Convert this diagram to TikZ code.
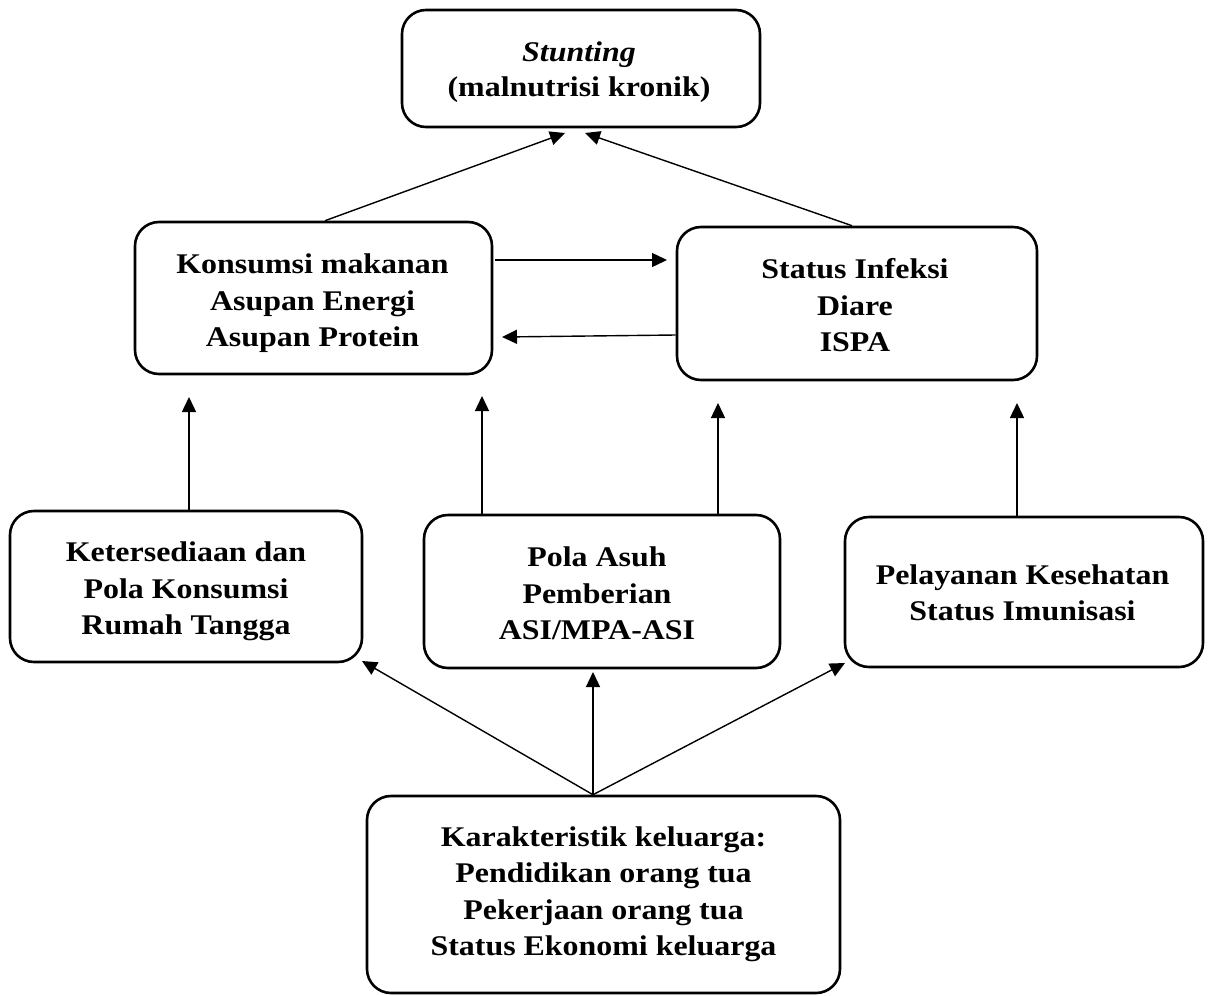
\documentclass[tikz,border=0pt]{standalone}
\usepackage{fontspec}
\setmainfont[FakeStretch=1.12]{Liberation Serif}
\usetikzlibrary{arrows.meta}
\begin{document}
\begin{tikzpicture}[x=1pt,y=-1pt,
 box/.style={draw, line width=2.6pt, rounded corners=24pt, inner sep=0pt},
 txt/.style={align=center, font=\fontsize{28.5}{36.5}\selectfont\bfseries, inner sep=0pt},
 arr/.style={line width=1.4pt, -{Triangle[length=15pt,width=14pt]}}]
\useasboundingbox (0,0) rectangle (1208,996);
% boxes
\node[box, minimum width=358pt, minimum height=117pt] (b1) at (581,68.5) {};
\node[box, minimum width=357pt, minimum height=152pt] (b2) at (313.5,298) {};
\node[box, minimum width=360pt, minimum height=153pt] (b3) at (857,303.5) {};
\node[box, minimum width=352pt, minimum height=151pt] (b4) at (186,586.5) {};
\node[box, minimum width=356pt, minimum height=153pt] (b5) at (602,591.5) {};
\node[box, minimum width=358pt, minimum height=150pt] (b6) at (1024,592) {};
\node[box, minimum width=473pt, minimum height=197pt] (b7) at (603.5,894.5) {};
% texts
\node[txt, font=\fontsize{28.5}{35}\selectfont\bfseries] (t1) at (579,72) {\strut\textit{Stunting}\\\strut(malnutrisi kronik)};
\node[txt] (t2) at (312.5,302.7) {\strut Konsumsi makanan\\\strut Asupan Energi\\\strut Asupan Protein};
\node[txt] (t3) at (855,307.7) {\strut Status Infeksi\\\strut Diare\\\strut ISPA};
\node[txt] (t4) at (186,590.7) {\strut Ketersediaan dan\\\strut Pola Konsumsi\\\strut Rumah Tangga};
\node[txt] (t5) at (597,596) {\strut Pola Asuh\\\strut Pemberian\\\strut ASI/MPA-ASI};
\node[txt] (t6) at (1022.5,595.2) {\strut Pelayanan Kesehatan\\\strut Status Imunisasi};
\node[txt] (t7) at (603.5,893.7) {\strut Karakteristik keluarga:\\\strut Pendidikan orang tua\\\strut Pekerjaan orang tua\\\strut Status Ekonomi keluarga};
% arrow tips / anchors
\coordinate (p1) at (565,133);
\coordinate (p2) at (585,133);
\coordinate (s1) at (325,0);
\coordinate (s2) at (852,0);
\coordinate (h1) at (667,260);
\coordinate (h2) at (502,337);
\coordinate (hs2) at (0,335);
\coordinate (v1) at (189,397);
\coordinate (v2) at (482,396);
\coordinate (v3) at (718,403);
\coordinate (v4) at (1017,403);
\coordinate (apex) at (593,0);
\coordinate (d1) at (362,661);
\coordinate (d2) at (593,672);
\coordinate (d3) at (845,663);
% connectors
\draw[arr] (b2.north -| s1) -- (p1);
\draw[arr] (b3.north -| s2) -- (p2);
\draw[arr] ([xshift=2pt]b2.east |- h1) -- (h1);
\draw[arr] (b3.west |- hs2) -- (h2);
\draw[arr] (b4.north -| v1) -- (v1);
\draw[arr] (b5.north -| v2) -- (v2);
\draw[arr] (b5.north -| v3) -- (v3);
\draw[arr] (b6.north -| v4) -- (v4);
\draw[arr] (b7.north -| apex) -- (d1);
\draw[arr] (b7.north -| apex) -- (d2);
\draw[arr] (b7.north -| apex) -- (d3);
\end{tikzpicture}
\end{document}
